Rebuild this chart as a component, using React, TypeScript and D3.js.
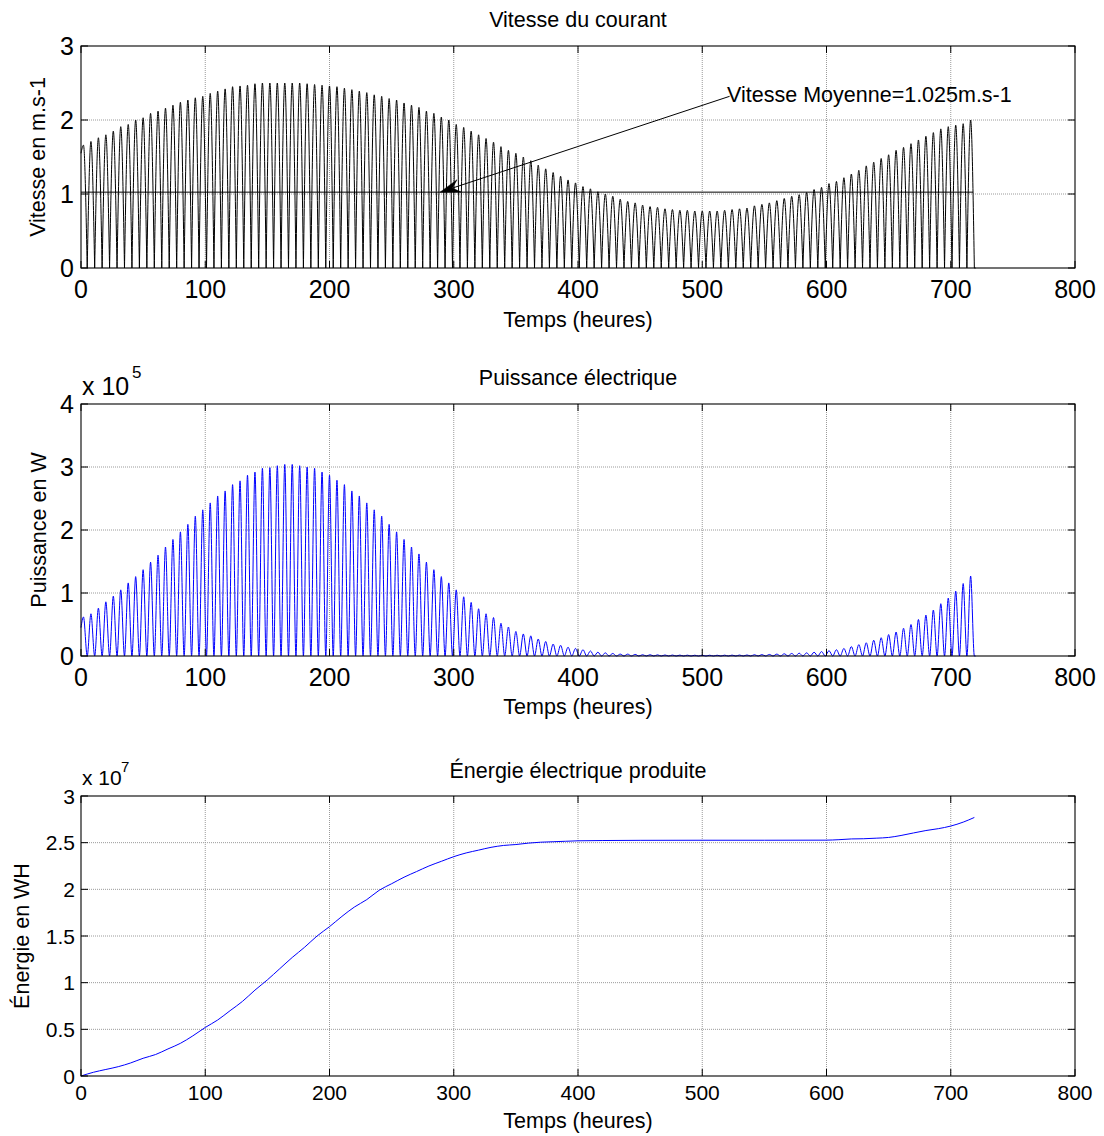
import React from 'react';
import * as d3 from 'd3';

// ---- Données ----
const premierPic = 2; // heure du premier pic (h)
const demiPeriode = 6; // durée d'un lobe (h)
const finSerie = 720;

const vitesseDebut = 1.55; // m/s à t = 0
const vitessePics = [
  1.66, 1.71, 1.76, 1.80, 1.85, 1.91, 1.94, 2.00, 2.03, 2.09,
  2.12, 2.16, 2.20, 2.24, 2.27, 2.30, 2.32, 2.36, 2.39, 2.42,
  2.45, 2.46, 2.47, 2.49, 2.50, 2.50, 2.50, 2.50, 2.50, 2.50,
  2.49, 2.48, 2.47, 2.46, 2.45, 2.43, 2.41, 2.39, 2.37, 2.34,
  2.32, 2.29, 2.27, 2.23, 2.20, 2.17, 2.12, 2.09, 2.04, 2.00,
  1.94, 1.90, 1.85, 1.80, 1.75, 1.70, 1.64, 1.59, 1.55, 1.50,
  1.45, 1.39, 1.34, 1.29, 1.24, 1.19, 1.15, 1.10, 1.07, 1.03,
  1.00, 0.97, 0.93, 0.90, 0.88, 0.85, 0.83, 0.82, 0.80, 0.79,
  0.78, 0.78, 0.77, 0.77, 0.77, 0.77, 0.78, 0.79, 0.80, 0.81,
  0.84, 0.86, 0.88, 0.91, 0.94, 0.97, 0.99, 1.02, 1.06, 1.09,
  1.14, 1.17, 1.22, 1.27, 1.32, 1.38, 1.43, 1.48, 1.53, 1.59,
  1.63, 1.68, 1.73, 1.78, 1.83, 1.88, 1.91, 1.93, 1.95, 2.00,
];

const puissanceDebut = 0.45; // x1e5 W à t = 0
const puissancePics = [
  0.62, 0.67, 0.76, 0.86, 0.95, 1.05, 1.16, 1.26, 1.37, 1.49,
  1.60, 1.73, 1.85, 1.97, 2.09, 2.22, 2.32, 2.43, 2.54, 2.62,
  2.72, 2.78, 2.87, 2.92, 2.98, 2.99, 3.02, 3.04, 3.04, 3.02,
  3.00, 2.98, 2.92, 2.87, 2.79, 2.72, 2.62, 2.54, 2.43, 2.32,
  2.22, 2.09, 1.97, 1.85, 1.73, 1.62, 1.49, 1.37, 1.26, 1.16,
  1.05, 0.94, 0.85, 0.75, 0.67, 0.61, 0.52, 0.46, 0.39, 0.35,
  0.32, 0.27, 0.23, 0.19, 0.17, 0.14, 0.12, 0.10, 0.08, 0.06,
  0.05, 0.04, 0.03, 0.03, 0.025, 0.02, 0.02, 0.018, 0.016, 0.015,
  0.014, 0.013, 0.012, 0.012, 0.012, 0.012, 0.013, 0.014, 0.015, 0.016,
  0.02, 0.022, 0.025, 0.03, 0.035, 0.04, 0.045, 0.05, 0.06, 0.07,
  0.085, 0.10, 0.12, 0.15, 0.18, 0.21, 0.25, 0.29, 0.34, 0.38,
  0.44, 0.50, 0.58, 0.65, 0.73, 0.83, 0.92, 1.03, 1.15, 1.27,
];

const energieTemps = [
  0, 10, 20, 30, 40, 50, 60, 70, 80, 90, 100, 110, 120, 130, 140, 150, 160, 170, 180, 190,
  200, 210, 220, 230, 240, 250, 260, 270, 280, 290, 300, 310, 320, 330, 340, 350, 360, 370,
  380, 390, 400, 420, 450, 500, 550, 600, 610, 620, 630, 640, 650, 660, 670, 680, 690, 700,
  710, 719,
];
const energieValeurs = [
  0.00, 0.04, 0.07, 0.10, 0.14, 0.19, 0.23, 0.29, 0.35, 0.43, 0.52, 0.60, 0.70, 0.80, 0.92,
  1.03, 1.15, 1.27, 1.38, 1.50, 1.60, 1.71, 1.81, 1.89, 1.99, 2.06, 2.13, 2.19, 2.25, 2.30,
  2.35, 2.39, 2.42, 2.45, 2.47, 2.48, 2.495, 2.505, 2.51, 2.515, 2.52, 2.523, 2.525, 2.526,
  2.526, 2.527, 2.532, 2.54, 2.542, 2.548, 2.556, 2.577, 2.604, 2.63, 2.65, 2.678, 2.72, 2.77,
];

const xTicks = [0, 100, 200, 300, 400, 500, 600, 700, 800];
const vTicks = [0, 1, 2, 3];
const pTicks = [0, 1, 2, 3, 4];
const eTicks = [0, 0.5, 1, 1.5, 2, 2.5, 3];
const eTickLabels = ['0', '0.5', '1', '1.5', '2', '2.5', '3'];

const vitesseMoyenne = 1.025;
const moyenneFin = 718;
const annotationTexte = 'Vitesse Moyenne=1.025m.s-1';
const annotationQueue: [number, number] = [522, 2.32];
const annotationPointe: [number, number] = [289, 1.025];
const annotationTextePos: [number, number] = [520, 2.24];

const FONT = "'Liberation Sans', Arial, Helvetica, sans-serif";

type Cfg = {
  top: number;
  bottom: number;
  domain: [number, number];
  ticks: number[];
  labels: string[];
  tickFont: number;
  xTickBase: number;
  title: string;
  titleBase: number;
  xlabelBase: number;
  ylabel: string;
  ylabelX: number;
  ylabelRight: number;
  expo?: { base: string; sup: string; x: number; y: number; supX: number; supY: number; f: number; sf: number };
};

const X0 = 81;
const X1 = 1075;

function Grid({ x, y, ticks }: { x: any; y: any; ticks: number[] }) {
  const [yb, yt] = y.range();
  return (
    <g stroke="#9a9a9a" strokeWidth={1} strokeDasharray="1,1">
      {xTicks.slice(1, -1).map((t) => (
        <line key={'gx' + t} x1={x(t)} x2={x(t)} y1={yt} y2={yb} />
      ))}
      {ticks.slice(1, -1).map((t) => (
        <line key={'gy' + t} x1={X0} x2={X1} y1={y(t)} y2={y(t)} />
      ))}
    </g>
  );
}

function Frame({ x, y, cfg }: { x: any; y: any; cfg: Cfg }) {
  const [yb, yt] = y.range();
  const L = 7;
  const cx = (X0 + X1) / 2;
  const cy = (yb + yt) / 2;
  return (
    <g fontFamily={FONT} fill="#000">
      <rect x={X0} y={yt} width={X1 - X0} height={yb - yt} fill="none" stroke="#000" strokeWidth={1.1} />
      <g stroke="#000" strokeWidth={1}>
        {xTicks.map((t) => (
          <g key={'tx' + t}>
            <line x1={x(t)} x2={x(t)} y1={yb} y2={yb - L} />
            <line x1={x(t)} x2={x(t)} y1={yt} y2={yt + L} />
          </g>
        ))}
        {cfg.ticks.map((t) => (
          <g key={'ty' + t}>
            <line x1={X0} x2={X0 + L} y1={y(t)} y2={y(t)} />
            <line x1={X1} x2={X1 - L} y1={y(t)} y2={y(t)} />
          </g>
        ))}
      </g>
      {xTicks.map((t) => (
        <text key={'lx' + t} x={x(t)} y={cfg.xTickBase} fontSize={cfg.tickFont} textAnchor="middle">
          {String(t)}
        </text>
      ))}
      {cfg.ticks.map((t, i) => (
        <text key={'ly' + t} x={cfg.ylabelRight} y={y(t)} dy="0.36em" fontSize={cfg.tickFont} textAnchor="end">
          {cfg.labels[i]}
        </text>
      ))}
      <text x={cx} y={cfg.titleBase} fontSize={21.5} textAnchor="middle">
        {cfg.title}
      </text>
      <text x={cx} y={cfg.xlabelBase} fontSize={21.5} textAnchor="middle">
        Temps (heures)
      </text>
      <text
        transform={`translate(${cfg.ylabelX},${cy}) rotate(-90)`}
        fontSize={21.5}
        textAnchor="middle"
      >
        {cfg.ylabel}
      </text>
      {cfg.expo && (
        <g>
          <text x={cfg.expo.x} y={cfg.expo.y} fontSize={cfg.expo.f}>
            {cfg.expo.base}
          </text>
          <text x={cfg.expo.supX} y={cfg.expo.supY} fontSize={cfg.expo.sf}>
            {cfg.expo.sup}
          </text>
        </g>
      )}
    </g>
  );
}

export default function App() {
  const x = d3.scaleLinear().domain([0, 800]).range([X0, X1]);

  const cfg1: Cfg = {
    top: 46, bottom: 268, domain: [0, 3], ticks: vTicks, labels: vTicks.map(String), tickFont: 25,
    xTickBase: 298, title: 'Vitesse du courant', titleBase: 27, xlabelBase: 327,
    ylabel: 'Vitesse en m.s-1', ylabelX: 45, ylabelRight: 74,
  };
  const cfg2: Cfg = {
    top: 404, bottom: 656, domain: [0, 4], ticks: pTicks, labels: pTicks.map(String), tickFont: 25,
    xTickBase: 686, title: 'Puissance électrique', titleBase: 385, xlabelBase: 714,
    ylabel: 'Puissance en W', ylabelX: 46, ylabelRight: 74,
    expo: { base: 'x 10', sup: '5', x: 82, y: 395, supX: 132, supY: 378, f: 25, sf: 17 },
  };
  const cfg3: Cfg = {
    top: 796, bottom: 1076, domain: [0, 3], ticks: eTicks, labels: eTickLabels, tickFont: 21,
    xTickBase: 1100, title: 'Énergie électrique produite', titleBase: 778, xlabelBase: 1128,
    ylabel: 'Énergie en WH', ylabelX: 29, ylabelRight: 75,
    expo: { base: 'x 10', sup: '7', x: 82, y: 785, supX: 121, supY: 772, f: 21, sf: 15 },
  };

  const y1 = d3.scaleLinear().domain(cfg1.domain).range([cfg1.bottom, cfg1.top]);
  const y2 = d3.scaleLinear().domain(cfg2.domain).range([cfg2.bottom, cfg2.top]);
  const y3 = d3.scaleLinear().domain(cfg3.domain).range([cfg3.bottom, cfg3.top]);

  const demi = demiPeriode / 2;
  const picTemps = (k: number) => premierPic + k * demiPeriode;

  // Vitesse : un lobe par demi-période
  const lobe = d3
    .line<[number, number]>()
    .x((d) => x(d[0]))
    .y((d) => y1(d[1]))
    .curve(d3.curveMonotoneX);
  let vitessePath = '';
  vitessePics.forEach((v, k) => {
    const t = picTemps(k);
    const pts: [number, number][] =
      k === 0
        ? [[0, vitesseDebut], [t, v], [t + demi, 0]]
        : [[t - demi, 0], [t, v], [Math.min(t + demi, finSerie), 0]];
    vitessePath += lobe(pts) || '';
  });
  const finLobes = picTemps(vitessePics.length - 1) + demi;
  vitessePath += lobe([[finLobes, 0], [finSerie, 0]]) || '';

  // Puissance
  const pPts: [number, number][] = [[0, puissanceDebut]];
  puissancePics.forEach((p, k) => {
    const t = picTemps(k);
    pPts.push([t, p]);
    pPts.push([t + demi, 0]);
  });
  pPts.push([finSerie, 0]);
  const puissancePath =
    d3
      .line<[number, number]>()
      .x((d) => x(d[0]))
      .y((d) => y2(d[1]))
      .curve(d3.curveMonotoneX)(pPts) || '';

  const energiePath =
    d3
      .line<number>()
      .x((_, i) => x(energieTemps[i]))
      .y((d) => y3(d))
      .curve(d3.curveMonotoneX)(energieValeurs) || '';

  // Flèche d'annotation
  const tail = [x(annotationQueue[0]), y1(annotationQueue[1])];
  const tip = [x(annotationPointe[0]), y1(annotationPointe[1])];
  const dx = tip[0] - tail[0];
  const dy = tip[1] - tail[1];
  const len = Math.hypot(dx, dy);
  const ux = dx / len;
  const uy = dy / len;
  const nx = -uy;
  const ny = ux;
  const HL = 20;
  const HW = 6.5;
  const back = [tip[0] - ux * HL, tip[1] - uy * HL];
  const notch = [tip[0] - ux * HL * 0.65, tip[1] - uy * HL * 0.65];
  const head = [
    tip,
    [back[0] + nx * HW, back[1] + ny * HW],
    notch,
    [back[0] - nx * HW, back[1] - ny * HW],
  ]
    .map((p) => p.join(','))
    .join(' ');

  return (
    <svg
      width={1104}
      height={1136}
      style={{ position: 'absolute', left: 0, top: 0, background: '#fff' }}
    >
      <rect width={1104} height={1136} fill="#fff" />
      {/* Vitesse */}
      <Grid x={x} y={y1} ticks={cfg1.ticks} />
      <path d={vitessePath} fill="none" stroke="#000" strokeWidth={1} />
      <line
        x1={x(0)}
        x2={x(moyenneFin)}
        y1={y1(vitesseMoyenne)}
        y2={y1(vitesseMoyenne)}
        stroke="#000"
        strokeWidth={1}
      />
      <line x1={tail[0]} y1={tail[1]} x2={notch[0]} y2={notch[1]} stroke="#000" strokeWidth={1} />
      <polygon points={head} fill="#000" stroke="#000" strokeWidth={0.5} />
      <text
        x={x(annotationTextePos[0])}
        y={y1(annotationTextePos[1])}
        fontFamily={FONT}
        fontSize={21.5}
      >
        {annotationTexte}
      </text>
      <Frame x={x} y={y1} cfg={cfg1} />

      {/* Puissance */}
      <Grid x={x} y={y2} ticks={cfg2.ticks} />
      <path d={puissancePath} fill="none" stroke="#0000ff" strokeWidth={1} />
      <Frame x={x} y={y2} cfg={cfg2} />

      {/* Énergie */}
      <Grid x={x} y={y3} ticks={cfg3.ticks} />
      <path d={energiePath} fill="none" stroke="#0000ff" strokeWidth={1} />
      <Frame x={x} y={y3} cfg={cfg3} />
    </svg>
  );
}
